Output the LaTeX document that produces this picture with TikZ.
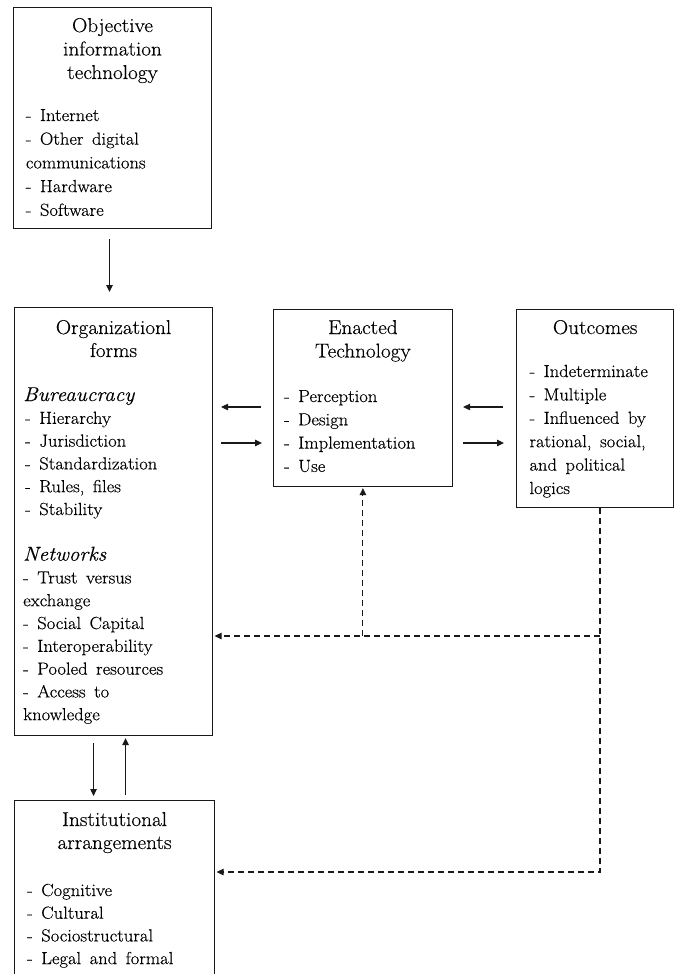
\documentclass[tikz,border=0pt]{standalone}
\usepackage{fontspec}
\setmainfont{Latin Modern Roman}[FakeStretch=1.06, FakeBold=0.35]
\usetikzlibrary{arrows.meta,calc}
\newcommand{\wsp}{\spaceskip=8.5pt plus 1pt\relax\xspaceskip=9pt\relax}
\tikzset{
  box/.style={draw=black!90, line width=1.1pt, rectangle, inner sep=0pt, anchor=north west},
  ttl/.style={anchor=base, text width=190pt, align=center, inner sep=0pt,
    font={\fontsize{20}{#1}\selectfont}},
  ttl/.default=23.3pt,
  itm/.style={anchor=base west, text width=185pt, align=left, inner sep=0pt,
    font={\fontsize{17.5}{#1}\selectfont}, execute at begin node={\wsp}},
  itm/.default=23.3pt,
  arr/.style={draw=black!90, line width=1.1pt, -{Triangle[length=7pt,width=6.5pt]}},
  dsh/.style={arr, dash pattern=on 6pt off 4pt},
}
\begin{document}
\begin{tikzpicture}[x=1pt,y=-1pt]
\useasboundingbox (0,0) rectangle (674,974);

% boxes
\node[box, minimum width=198.5pt, minimum height=221pt] (oit) at (12.7,7) {};
\node[box, minimum width=198pt, minimum height=428pt] (org) at (14,307) {};
\node[box, minimum width=179.3pt, minimum height=176.5pt] (ena) at (272.7,309) {};
\node[box, minimum width=157.3pt, minimum height=197.5pt] (out) at (516,309) {};
\node[box, minimum width=200pt, minimum height=190pt] (inst) at (14,800) {};

% titles
\node[ttl=23.5pt] (oitT) at ($(oit.north)+(0,25)$) {Objective\\information\\technology};
\node[ttl=23pt] (orgT) at ($(org.north)+(0,27)$) {Organizationl\\forms};
\node[ttl=23.5pt] (enaT) at ($(ena.north)+(0,25)$) {Enacted\\Technology};
\node[ttl] (outT) at ($(out.north)+(0,25)$) {Outcomes};
\node[ttl=23pt] (instT) at ($(inst.north)+(0,26)$) {Institutional\\arrangements};

% items
\node[itm=23.7pt] (oitI) at ($(oit.north west)+(13,114)$)
  {- Internet\\- Other digital\\communications\\- Hardware\\- Software};
\node[itm=22.8pt] (orgI) at ($(org.north west)+(9,94)$)
  {{\fontsize{20}{22.8}\selectfont\itshape Bureaucracy}\\
   \hspace*{2pt}- Hierarchy\\
   \hspace*{2pt}- Jurisdiction\\
   \hspace*{2pt}- Standardization\\
   \hspace*{2pt}- Rules, files\\
   \hspace*{2pt}- Stability\\[22.8pt]
   {\fontsize{20}{22.8}\selectfont\itshape Networks}\\
   - Trust versus\\
   exchange\\
   - Social Capital\\
   - Interoperability\\
   - Pooled resources\\
   - Access to\\
   knowledge};
\node[itm=23.3pt] (enaI) at ($(ena.north west)+(11.3,93)$)
  {- Perception\\- Design\\- Implementation\\- Use};
\node[itm=23.4pt] (outI) at ($(out.north west)+(13.3,68)$)
  {- Indeterminate\\- Multiple\\- Influenced by\\rational, social,\\and political\\logics};
\node[itm=22.7pt] (instI) at ($(inst.north west)+(13,96)$)
  {- Cognitive\\- Cultural\\- Sociostructural\\- Legal and formal};

% helper coordinates
\coordinate (rowA) at (0,407);
\coordinate (rowB) at (0,443);
\coordinate (rowC) at (0,636);
\coordinate (rowD) at (0,872);
\coordinate (dv) at (600,0);

% solid arrows
\draw[arr, shorten <=10pt, shorten >=15pt] ([xshift=-3pt]oit.south) -- ([xshift=-3pt]oit.south |- org.north);
\draw[arr, shorten <=11.7pt, shorten >=8pt] (ena.west |- rowA) -- (org.east |- rowA);
\draw[arr, shorten <=8pt, shorten >=10.7pt] (org.east |- rowB) -- (ena.west |- rowB);
\draw[arr, shorten <=13pt, shorten >=10pt] (out.west |- rowA) -- (ena.east |- rowA);
\draw[arr, shorten <=10pt, shorten >=12pt] (ena.east |- rowB) -- (out.west |- rowB);
\draw[arr, shorten <=7pt, shorten >=4pt] ([xshift=-20pt]org.south) -- ([xshift=-20pt]org.south |- inst.north);
\draw[arr, shorten <=5pt, shorten >=2pt] ([xshift=11pt]inst.north) -- ([xshift=11pt]inst.north |- org.south);

% dashed feedback
\draw[dsh, shorten >=1.5pt] (out.south -| dv) -- (dv |- rowD) -- (inst.east |- rowD);
\draw[dsh, shorten >=1.5pt] (dv |- rowC) -- (org.east |- rowC);
\draw[dsh, shorten >=1.5pt] (ena.south |- rowC) -- (ena.south);
\end{tikzpicture}
\end{document}
